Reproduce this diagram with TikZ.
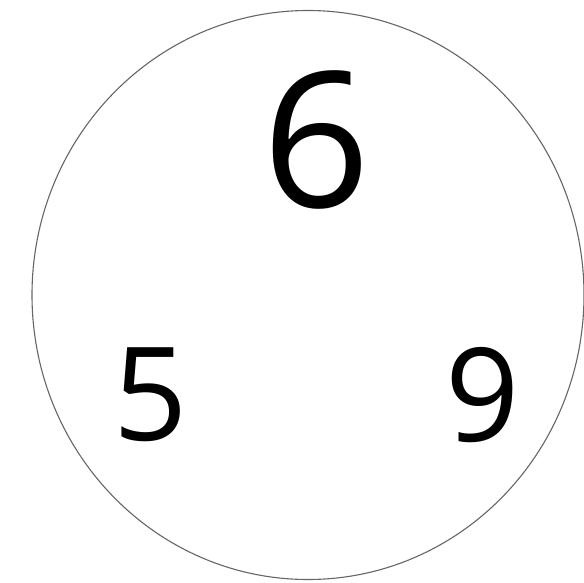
\documentclass[tikz,border=0pt]{standalone}
\usepackage{fontspec}
\setmainfont{Open Sans}
\begin{document}
\begin{tikzpicture}[x=1pt,y=1pt,
  digit/.style={inner sep=0pt, anchor=center, text=black}]
\useasboundingbox (0,0) rectangle (584,-582);
\fill[white] (0,0) rectangle (584,-582);
\draw[draw=black!60, line width=1.1pt] (308,-295) ellipse [x radius=276, y radius=284.5];
\node[digit, font=\fontsize{189}{189}\selectfont] (six) at (317,-140) {6};
\node[digit, font=\fontsize{130}{130}\selectfont] (five) at (151,-395) {5};
\node[digit, font=\fontsize{130}{130}\selectfont] (nine) at (483,-395) {9};
\end{tikzpicture}
\end{document}
